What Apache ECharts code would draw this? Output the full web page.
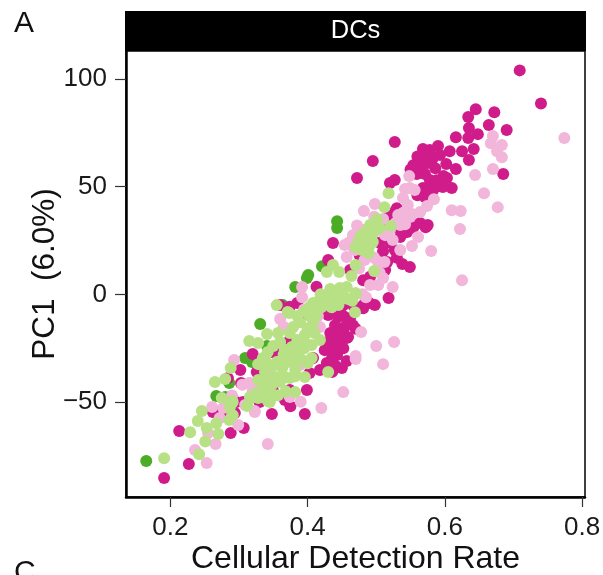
<!DOCTYPE html>
<html><head><meta charset="utf-8">
<style>html,body{margin:0;padding:0;background:#fff}#c{width:603px;height:575px}</style>
<script src="https://cdn.jsdelivr.net/npm/echarts@6/dist/echarts.min.js"></script>
</head><body><div id="c"></div>
<script>
const panelTitle = "DCs";
const xTicks = [0.2,0.4,0.6,0.8];
const yTicks = [-50,0,50,100];
const darkGreen = [[.165,-77.4],[.267,-47.2],[.280,-47.7],[.286,-41.2],[.309,-29.6],[.319,-31.4],[.331,-13.8],[.341,-24.0],[.364,-5.0],[.382,3.4],[.399,7.6],[.401,9.0],[.421,13.1],[.443,30.8],[.443,34.0]];
const magenta = [[.709,104.0],[.740,88.6],[.690,76.3],[.645,86.0],[.672,84.6],[.634,82.3],[.664,78.6],[.635,77.2],[.648,74.4],[.616,73.0],[.634,72.6],[.527,70.7],[.642,67.5],[.625,66.5],[.607,66.5],[.590,68.9],[.568,67.5],[.578,67.0],[.593,64.7],[.568,63.7],[.635,62.4],[.602,60.5],[.554,60.0],[.575,61.0],[.586,58.6],[.616,58.2],[.685,55.9],[.571,55.9],[.559,55.9],[.603,54.0],[.527,53.1],[.495,61.9],[.472,54.0],[.590,50.3],[.610,49.4],[.568,49.4],[.520,51.7],[.597,49.8],[.571,45.2],[.578,53.1],[.574,48.4],[.583,48.4],[.564,33.1],[.575,32.2],[.554,31.2],[.572,31.2],[.538,14.1],[.549,12.7],[.535,26.6],[.516,15.0],[.518,-1.7],[.498,-5.0],[.437,23.8],[.430,15.9],[.539,28.5],[.549,35.9],[.520,37.7],[.505,32.2],[.527,20.6],[.513,11.3],[.476,18.2],[.462,11.3],[.413,3.5],[.418,-2.6],[.360,-5.0],[.374,-5.8],[.491,8.2],[.481,6.6],[.440,-5.0],[.481,-5.0],[.481,-6.4],[.447,-7.3],[.444,-10.5],[.466,-14.3],[.454,-15.2],[.433,-18.0],[.443,-23.5],[.433,-24.5],[.457,-20.3],[.459,-19.8],[.450,-20.3],[.447,-24.9],[.436,-29.1],[.428,-31.9],[.457,-31.0],[.450,-34.2],[.443,-28.2],[.425,-25.9],[.440,-14.3],[.430,-9.6],[.385,-4.0],[.392,-9.6],[.399,-44.4],[.396,-55.6],[.348,-55.6],[.367,-49.1],[.374,-44.4],[.403,-36.5],[.408,-29.6],[.353,-27.3],[.320,-27.7],[.302,-35.1],[.303,-41.2],[.326,-36.1],[.284,-38.9],[.262,-54.6],[.277,-54.6],[.296,-50.0],[.306,-50.0],[.294,-55.1],[.307,-62.1],[.288,-64.4],[.213,-63.5],[.227,-78.8],[.191,-85.3],[.389,-23.5],[.374,-21.2],[.418,-35.1],[.338,-49.1],[.560,64],[.565,59],[.582,63],[.598,55],[.588,53],[.580,46],[.560,46],[.550,58],[.530,40],[.545,29],[.528,31],[.515,33],[.510,20],[.520,24],[.530,17],[.505,24],[.452,-10],[.462,-11],[.470,-16],[.438,-20],[.446,-17],[.452,-25],[.440,-33],[.436,-36],[.430,-22],[.420,-8],[.436,-4],[.452,-5],[.466,-5],[.490,-4],[.340,-33],[.350,-45],[.375,-52],[.330,-50]];
const pink = [[.774,72.6],[.670,73.5],[.667,70.2],[.683,69.3],[.676,66.5],[.683,63.7],[.670,58.2],[.644,55.4],[.657,47.0],[.677,40.5],[.610,39.1],[.623,38.7],[.622,30.3],[.580,20.1],[.625,6.6],[.548,54.9],[.542,48.9],[.556,48.4],[.549,49.4],[.539,44.7],[.546,41.5],[.584,44.2],[.574,41.0],[.564,38.2],[.549,35.9],[.533,36.4],[.542,32.6],[.552,37.3],[.498,41.9],[.482,38.7],[.466,27.5],[.454,22.9],[.457,17.3],[.552,22.4],[.535,20.6],[.524,25.2],[.510,7.6],[.491,4.3],[.503,4.3],[.524,3.4],[.485,-1.3],[.392,3.4],[.392,-1.3],[.503,14.5],[.532,36.8],[.561,26.6],[.535,32.2],[.513,27.5],[.491,29.9],[.469,20.6],[.483,15.9],[.526,-22.1],[.500,-24.0],[.470,-28.6],[.470,-30.0],[.510,-32.4],[.478,-17.5],[.452,-45.4],[.420,-52.8],[.390,-49.9],[.323,-54.6],[.309,-51.4],[.316,-41.2],[.360,-11.5],[.418,-15.2],[.331,-43.0],[.374,-47.7],[.293,-30.5],[.236,-72.3],[.253,-78.3],[.266,-69.5],[.255,-64.4],[.299,-60.7],[.342,-69.5],[.261,-52.3],[.277,-52.8],[.323,-54.2],[.315,-41.2],[.323,-43.5],[.272,-57.4],[.367,-25.9],[.389,-32.8],[.345,-37.5],[.338,-46.8],[.510,35],[.520,30],[.497,36],[.480,30],[.472,32],[.466,22],[.475,12],[.460,24],[.497,17],[.512,15],[.505,10],[.528,33],[.540,38],[.480,0],[.345,-45],[.345,-33],[.365,-15],[.395,-7],[.415,-10],[.405,-15],[.432,-5],[.320,-45],[.305,-42],[.290,-47]];
const lightGreen = [[.191,-76.1],[.242,-74.2],[.251,-68.3],[.229,-64.0],[.270,-64.9],[.253,-62.1],[.240,-58.8],[.246,-54.2],[.267,-59.8],[.286,-58.4],[.291,-56.1],[.287,-52.3],[.290,-49.5],[.275,-48.1],[.265,-40.7],[.280,-39.3],[.288,-34.2],[.312,-51.9],[.318,-48.1],[.315,-21.7],[.328,-22.6],[.341,-18.4],[.342,-26.8],[.335,-29.6],[.328,-32.4],[.338,-36.1],[.328,-39.8],[.334,-45.4],[.342,-49.5],[.328,-48.1],[.355,-31.4],[.353,-38.4],[.355,-5.0],[.373,-8.7],[.357,-18.0],[.430,-36.1],[.469,-8.3],[.418,-21.2],[.406,-23.5],[.408,-13.3],[.389,-12.9],[.379,-15.2],[.374,-18.0],[.360,-22.1],[.385,-21.2],[.377,-24.5],[.389,-25.9],[.406,-29.6],[.396,-38.4],[.374,-38.9],[.357,-31.4],[.371,-31.4],[.363,-34.2],[.392,-30.5],[.360,-40.7],[.341,-41.2],[.342,-44.4],[.331,-45.4],[.357,-46.8],[.382,-45.4],[.345,-50.0],[.316,-47.7],[.291,-50.0],[.290,-56.1],[.414,-3.6],[.406,-8.7],[.428,-1.7],[.447,-1.3],[.470,0.1],[.419,0.1],[.408,-4.0],[.403,-5.9],[.425,-2.6],[.440,-1.7],[.433,2.5],[.447,2.9],[.457,3.4],[.470,0.6],[.459,-2.2],[.371,-8.2],[.497,10.8],[.464,8.5],[.446,10.4],[.428,10.4],[.437,13.6],[.470,13.6],[.489,19.2],[.479,20.6],[.476,23.8],[.495,24.3],[.478,27.5],[.485,25.2],[.491,32.2],[.505,30.8],[.521,31.7],[.501,35.0],[.512,40.5],[.518,47.0],[.491,22.9],[.482,22.9],[.382,-35.1],[.367,-25.9],[.396,-18.9],[.475,25],[.482,28],[.470,22],[.487,30],[.497,29],[.350,-24],[.365,-28],[.372,-28],[.380,-28],[.395,-25],[.400,-16],[.385,-10],[.395,-8],[.412,-10],[.420,-6],[.435,-6],[.445,-5],[.452,-1],[.465,-3],[.340,-34],[.350,-33],[.348,-42],[.365,-38],[.382,-38],[.368,-45],[.352,-47],[.345,-42],[.335,-41],[.325,-46],[.338,-30],[.400,-32],[.385,-30],[.380,-32],[.395,-22],[.410,-18],[.403,-10]];
const font = '"Liberation Sans", Arial, sans-serif';
const chart = echarts.init(document.getElementById('c'), null, {renderer:'canvas'});
const ser = (data,color)=>({type:'scatter',data,symbol:'circle',symbolSize:12,silent:true,itemStyle:{color,opacity:1},clip:false});
chart.setOption({
  animation:false,
  backgroundColor:'#fff',
  grid:{left:126,right:18,top:51,bottom:78,show:true,borderColor:'#000',borderWidth:1.5,backgroundColor:'#fff',outerBoundsMode:'none'},
  xAxis:{type:'value',min:0.1355,max:0.8041,splitLine:{show:false},
    name:'Cellular Detection Rate',nameLocation:'middle',nameGap:62,nameMoveOverlap:false,
    nameTextStyle:{fontSize:32,fontFamily:font,color:'#111',verticalAlign:'middle',padding:0},
    axisLine:{show:true,onZero:false,lineStyle:{color:'#000',width:2.5}},
    axisTick:{show:true,length:10,customValues:xTicks,lineStyle:{color:'#333',width:1.2}},
    axisLabel:{customValues:xTicks,fontSize:26,fontFamily:font,color:'#1a1a1a',margin:18,showMinLabel:true,showMaxLabel:true,hideOverlap:false,
      formatter:v=>v.toFixed(1)}},
  yAxis:{type:'value',min:-94.1,max:113,splitLine:{show:false},
    name:'PC1  (6.0%)',nameLocation:'middle',nameGap:81,nameMoveOverlap:false,
    nameTextStyle:{fontSize:31.5,fontFamily:font,color:'#111',verticalAlign:'middle'},
    axisLine:{show:true,onZero:false,lineStyle:{color:'#000',width:2.5}},
    axisTick:{show:true,length:11,customValues:yTicks,lineStyle:{color:'#333',width:1.2}},
    axisLabel:{customValues:yTicks,fontSize:26,fontFamily:font,color:'#1a1a1a',margin:19,padding:[7,0,0,0],
      formatter:v=>String(v).replace('-','\u2212')}},
  series:[ser(darkGreen,'#4dac26'),ser(magenta,'#d01c8b'),ser(pink,'#f1b6da'),ser(lightGreen,'#b8e186')],
  graphic:[
    {type:'rect',shape:{x:125,y:11,width:461,height:40},style:{fill:'#000'},z:10},
    {type:'text',x:355.5,y:31,style:{text:panelTitle,fill:'#fff',font:'25.5px '+font,textAlign:'center',textVerticalAlign:'middle'},z:11},
    {type:'text',x:14,y:23.5,style:{text:'A',fill:'#111',font:'30px '+font,textVerticalAlign:'middle'},z:11},
    {type:'text',x:14,y:573,style:{text:'C',fill:'#111',font:'30px '+font,textVerticalAlign:'middle'},z:11}
  ]
});
</script></body></html>
